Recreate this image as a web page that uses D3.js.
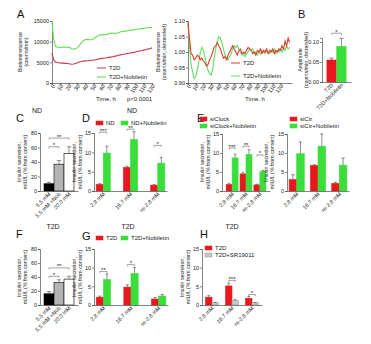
<!DOCTYPE html>
<html>
<head>
<meta charset="utf-8">
<script src="https://cdn.jsdelivr.net/npm/d3@7"></script>
<style>
  body { margin: 0; background: #fff; }
  svg { display: block; font-family: Arial, "Liberation Sans", sans-serif; }
  .axis path, .axis line { stroke: #333; stroke-width: 0.6; }
  .axis text { fill: #222; font-size: 5.5px; }
</style>
</head>
<body>
<svg id="fig" width="371" height="344"></svg>
<script>
// ---------- data ----------
// A, left: raw bioluminescence (counts/min)
var hoursRaw = [0,2,4,6,8,10,12,14,16,18,20,22,24,26,28,30,32,34,36,38,40,42,44,46,48,50,52,54,56,58,60,62,64,66,68,70,72,74,76,78,80,82,84,86,88,90,92,94,96,98,100,102,104,106,108,110,112,114,116,118,120];
var rawT2D = [7200,5600,5100,4950,4900,4850,4800,4800,4750,4700,4650,4600,4550,4600,4700,4850,5000,5150,5250,5300,5350,5400,5400,5450,5500,5550,5600,5700,5800,5900,5950,6000,6050,6100,6200,6250,6300,6400,6500,6600,6700,6800,6900,6950,7000,7100,7200,7250,7350,7400,7500,7600,7700,7800,7850,7950,8050,8150,8250,8350,8500];
var rawNob = [15000,10500,9000,8700,8600,8600,8650,8700,8650,8600,8700,8500,8300,8200,8250,8500,8900,9400,9900,10300,10500,10550,10500,10450,10500,10700,11000,11300,11500,11600,11700,11750,11700,11750,11900,12000,12100,12050,12000,12050,12200,12350,12450,12500,12550,12600,12700,12750,12800,12850,12950,13000,13050,13100,13150,13200,13300,13350,13450,13500,13450];

// A, right: detrended bioluminescence
var hoursDetr = [0,2,4,6,8,10,12,14,16,18,20,22,24,26,28,30,32,34,36,38,40,42,44,46,48,50,52,54,56,58,60,62,64,66,68,70,72,74,76,78,80,82,84,86,88,90,92,94,96,98,100,102,104,106,108,110,112,114,116,118,120,122,124,126,128,130,132];
var detrT2D = [1.095,1.04,0.995,0.99,0.975,0.98,0.99,0.985,0.975,0.98,0.97,0.965,0.955,0.96,0.975,0.985,1.00,1.015,1.02,1.03,1.02,1.01,0.995,0.98,0.985,0.975,0.99,1.00,1.01,1.02,1.01,1.00,0.99,1.005,1.01,0.995,1.00,0.995,1.005,1.015,1.01,1.005,0.995,1.00,0.99,1.005,1.00,1.01,0.995,1.005,1.00,1.01,0.995,1.005,1.00,1.01,0.995,1.005,1.00,1.01,1.005,1.02,1.01,1.035,1.02,1.045,1.03];
var detrNob = [1.09,1.02,0.96,0.935,0.915,0.92,0.94,0.97,1.00,1.015,1.005,0.985,0.96,0.94,0.93,0.925,0.945,0.98,1.01,1.035,1.05,1.045,1.03,1.01,0.99,0.98,0.975,0.985,0.995,1.01,1.02,1.015,1.02,1.01,1.00,0.99,0.995,0.985,0.995,1.00,1.01,1.005,1.01,0.995,1.00,0.99,1.00,0.995,1.005,1.00,0.995,1.005,1.00,0.995,1.005,1.00,1.01,0.995,1.005,1.00,1.01,1.0,1.015,1.005,1.02,1.01,1.015];

// B: amplitude
var ampLabels = ["T2D", "T2D+Nobiletin"];
var ampMean = [0.055, 0.089];
var ampErr = [0.005, 0.02];

// C / F: glucose conditions
var nobLabels = ["5.5 mM", "5.5 mM +Nob", "20.0 mM"];
var ndMean = [10, 37, 52];
var ndErr = [2, 5, 9];
var t2dMean = [16, 32, 37];
var t2dErr = [3, 4, 4];

// D / E / G / H: glucose steps
var glucLabels = ["2.8 mM", "16.7 mM", "re-2.8 mM"];
var dND = [1.7, 6.1, 1.5],        dNDErr = [0.2, 0.3, 0.2];
var dNob = [9.8, 13.3, 7.2],      dNobErr = [1.8, 2.0, 1.5];
var eClock = [1.7, 4.5, 1.6],     eClockErr = [0.3, 0.4, 0.2];
var eClockNob = [8.7, 9.6, 5.1],  eClockNobErr = [1.0, 1.3, 0.3];
var eCtr = [3.0, 6.7, 2.0],       eCtrErr = [1.3, 0.2, 0.3];
var eCtrNob = [9.8, 11.8, 6.8],   eCtrNobErr = [3.1, 3.2, 1.9];
var gT2D = [2.1, 4.8, 1.6],       gT2DErr = [0.3, 0.6, 0.4];
var gNob = [6.8, 8.4, 2.4],       gNobErr = [1.5, 1.6, 0.4];
var hT2D = [2.1, 5.1, 1.8],       hT2DErr = [0.4, 0.8, 0.5];
var hSR = [0.6, 1.2, 0.6],        hSRErr = [0.1, 0.3, 0.1];

// ---------- drawing ----------
var RED = "#e8191e", GREEN = "#3ade3a", GREY = "#c8c8c8";
var svg = d3.select("#fig");

function letter(t, x, y) {
  svg.append("text").attr("x", x).attr("y", y).attr("font-size", 11).attr("fill", "#111").text(t);
}
function label(t, x, y, size, anchor) {
  svg.append("text").attr("x", x).attr("y", y).attr("font-size", size || 6)
    .attr("text-anchor", anchor || "start").attr("fill", "#222").text(t);
}
function yTitle(x, yMid, lines) {
  lines.forEach(function(t, i) {
    svg.append("text")
      .attr("transform", "translate(" + (x + i * 5.5) + "," + yMid + ") rotate(-90)")
      .attr("text-anchor", "middle").attr("font-size", 5.3).attr("fill", "#222").text(t);
  });
}
function legendBox(x, y, fill, stroke, t) {
  svg.append("rect").attr("x", x).attr("y", y).attr("width", 7).attr("height", 4)
    .attr("fill", fill).attr("stroke", stroke || fill).attr("stroke-width", 0.5);
  label(t, x + 10, y + 4, 6);
}
function legendLine(x, y, color, t) {
  svg.append("line").attr("x1", x).attr("x2", x + 9).attr("y1", y).attr("y2", y)
    .attr("stroke", color).attr("stroke-width", 1);
  label(t, x + 12, y + 2, 6);
}
function rotateTicks(sel, angle) {
  sel.selectAll("text").attr("x", -1).attr("y", 2).attr("dy", "0.35em")
    .attr("transform", "rotate(" + angle + ")").style("text-anchor", "end");
}

// time-course panel
function tracePanel(p) {
  var x = d3.scaleLinear().domain(p.xdom).range([p.x0, p.x1]);
  var y = d3.scaleLinear().domain(p.ydom).range([p.yb, p.yt]);
  svg.append("g").attr("class", "axis").attr("transform", "translate(" + p.x0 + ",0)")
    .call(d3.axisLeft(y).tickValues(p.yticks).tickSize(2).tickPadding(1).tickFormat(p.fmt));
  svg.append("g").attr("class", "axis").attr("transform", "translate(0," + p.yb + ")")
    .call(d3.axisBottom(x).tickValues(p.xticks).tickSize(2).tickSizeOuter(0))
    .call(rotateTicks, -55);
  var line = d3.line().x(function(d) { return x(d[0]); }).y(function(d) { return y(d[1]); });
  p.series.forEach(function(s) {
    svg.append("path").datum(d3.zip(p.hours, s.values))
      .attr("fill", "none").attr("stroke", s.color).attr("stroke-width", 1.1).attr("d", line);
  });
}

// grouped bar panel with upward error bars and significance brackets
function barPanel(p) {
  var x = d3.scaleBand().domain(p.labels).range([p.x0, p.x1])
    .paddingInner(p.pi).paddingOuter(p.po);
  var inner = d3.scaleBand().domain(d3.range(p.series.length)).range([0, x.bandwidth()]);
  var y = d3.scaleLinear().domain([0, p.ymax]).range([p.yb, p.yt]);
  var bw = inner.bandwidth();

  svg.append("g").attr("class", "axis").attr("transform", "translate(" + p.x0 + ",0)")
    .call(d3.axisLeft(y).tickValues(p.ticks).tickSize(2).tickPadding(1)
      .tickFormat(p.fmt || d3.format("d")));

  p.series.forEach(function(s, si) {
    var fillOf = function(i) { return s.fills ? s.fills[i] : s.fill; };
    var g = svg.append("g");
    g.selectAll("rect").data(p.labels).join("rect")
      .attr("x", function(d) { return x(d) + inner(si); })
      .attr("width", bw)
      .attr("y", function(d, i) { return y(s.values[i]); })
      .attr("height", function(d, i) { return p.yb - y(s.values[i]); })
      .attr("fill", function(d, i) { return fillOf(i); })
      .attr("stroke", function(d, i) { return s.stroke || fillOf(i); })
      .attr("stroke-width", 0.6);
    // error bars
    g.selectAll("path").data(p.labels).join("path")
      .attr("fill", "none").attr("stroke", "#444").attr("stroke-width", 0.6)
      .attr("d", function(d, i) {
        var cx = x(d) + inner(si) + bw / 2, top = y(s.values[i] + s.errors[i]);
        return "M" + cx + "," + y(s.values[i]) + "V" + top +
          "M" + (cx - bw * 0.22) + "," + top + "H" + (cx + bw * 0.22);
      });
  });

  svg.append("g").attr("class", "axis").attr("transform", "translate(0," + p.yb + ")")
    .call(d3.axisBottom(x).tickSize(0).tickSizeOuter(0))
    .call(rotateTicks, -45);

  (p.sig || []).forEach(function(s) {
    var xa = x(p.labels[s.from[0]]) + inner(s.from[1]) + bw / 2;
    var xb = x(p.labels[s.to[0]]) + inner(s.to[1]) + bw / 2;
    var yy = y(s.at);
    svg.append("path").attr("fill", "none").attr("stroke", "#444").attr("stroke-width", 0.5)
      .attr("d", "M" + xa + "," + (yy + 1.5) + "V" + yy + "H" + xb + "V" + (yy + 1.5));
    label(s.text, (xa + xb) / 2, yy + 0.5, 6, "middle");
  });
}

var insulinTitle = ["Insulin secretion,", "mIU/L (% from content)"];

// ---- A ----
letter("A", 17, 18);
tracePanel({
  x0: 52, x1: 152, yt: 21, yb: 83, xdom: [0, 120], ydom: [0, 15000],
  xticks: [0,10,20,30,40,50,60,70,80,90,100,110,120], yticks: [0, 5000, 10000, 15000],
  fmt: d3.format("d"), hours: hoursRaw,
  series: [{ values: rawNob, color: "#66dd55" }, { values: rawT2D, color: "#cc3344" }]
});
yTitle(22, 52, ["Bioluminescence", "(counts/min)"]);
legendLine(97, 68, "#cc3344", "T2D");
legendLine(97, 77, "#66dd55", "T2D+Nobiletin");
label("Time, h", 106, 101, 6, "middle");
label("p<0.0001", 127, 101, 6);

tracePanel({
  x0: 188, x1: 292, yt: 21, yb: 83, xdom: [0, 135], ydom: [0.9, 1.1],
  xticks: [0,10,20,30,40,50,60,70,80,90,100,110,120], yticks: [0.9, 0.95, 1.0, 1.05, 1.1],
  fmt: d3.format(".2f"), hours: hoursDetr,
  series: [{ values: detrNob, color: "#5ee05e" }, { values: detrT2D, color: "#e03c28" }]
});
yTitle(160, 52, ["Bioluminescence", "(counts/min, detrended)"]);
legendLine(231, 63, "#e03c28", "T2D");
legendLine(231, 76, "#5ee05e", "T2D+Nobiletin");
label("Time, h", 255, 101, 6, "middle");

// ---- B ----
letter("B", 298, 18);
barPanel({
  labels: ampLabels, x0: 322, x1: 351, pi: 0.05, po: 0.5, yt: 38, yb: 82,
  ymax: 0.11, ticks: [0, 0.05, 0.1], fmt: d3.format(".2f"),
  series: [{ values: ampMean, errors: ampErr, fills: [RED, GREEN] }],
  sig: [{ from: [0, 0], to: [1, 0], at: 0.122, text: "*" }]
});
yTitle(302, 60, ["Amplitude", "(counts/min, detrended)"]);

// ---- C ----
letter("C", 16, 122);
label("ND", 37, 113, 7, "middle");
barPanel({
  labels: nobLabels, x0: 40, x1: 78, pi: 0, po: 0.4, yt: 133, yb: 191,
  ymax: 80, ticks: [0, 20, 40, 60, 80],
  series: [{ values: ndMean, errors: ndErr, fills: ["#000", "#b4b4b4", "#fff"], stroke: "#000" }],
  sig: [{ from: [0, 0], to: [1, 0], at: 61, text: "*" },
        { from: [0, 0], to: [2, 0], at: 73, text: "**" }]
});
yTitle(21, 162, insulinTitle);

// ---- D ----
letter("D", 82, 122);
label("ND", 132, 113, 7, "middle");
legendBox(96, 121, RED, null, "ND");
legendBox(121, 121, GREEN, null, "ND+Nobiletin");
barPanel({
  labels: glucLabels, x0: 94, x1: 167, pi: 0.48, po: 0.08, yt: 133, yb: 191,
  ymax: 15, ticks: [0, 5, 10, 15],
  series: [{ values: dND, errors: dNDErr, fill: RED },
           { values: dNob, errors: dNobErr, fill: GREEN }],
  sig: [{ from: [0, 0], to: [0, 1], at: 15.2, text: "***" },
        { from: [1, 0], to: [1, 1], at: 16.0, text: "**" },
        { from: [2, 0], to: [2, 1], at: 11.8, text: "*" }]
});
yTitle(76, 162, insulinTitle);

// ---- E ----
letter("E", 197, 122);
legendBox(200, 117, RED, null, "siClock");
legendBox(200, 124, GREEN, null, "siClock+Nobiletin");
barPanel({
  labels: glucLabels, x0: 222, x1: 270, pi: 0.14, po: 0.3, yt: 134, yb: 191,
  ymax: 15, ticks: [0, 5, 10, 15],
  series: [{ values: eClock, errors: eClockErr, fill: RED },
           { values: eClockNob, errors: eClockNobErr, fill: GREEN }],
  sig: [{ from: [0, 0], to: [0, 1], at: 11.3, text: "***" },
        { from: [1, 0], to: [1, 1], at: 11.8, text: "**" },
        { from: [2, 0], to: [2, 1], at: 9.5, text: "*" }]
});
yTitle(204, 162, insulinTitle);

legendBox(290, 117, RED, null, "siCtr");
legendBox(290, 124, GREEN, null, "siCtr+Nobiletin");
barPanel({
  labels: glucLabels, x0: 287, x1: 349, pi: 0.29, po: 0.1, yt: 134, yb: 191,
  ymax: 15, ticks: [0, 5, 10, 15],
  series: [{ values: eCtr, errors: eCtrErr, fill: RED },
           { values: eCtrNob, errors: eCtrNobErr, fill: GREEN }]
});
yTitle(268, 162, insulinTitle);

// ---- F ----
letter("F", 16, 238);
label("T2D", 53, 229, 7, "middle");
barPanel({
  labels: nobLabels, x0: 40, x1: 78, pi: 0, po: 0.4, yt: 249, yb: 305,
  ymax: 80, ticks: [0, 20, 40, 60, 80],
  series: [{ values: t2dMean, errors: t2dErr, fills: ["#000", "#b4b4b4", "#fff"], stroke: "#000" }],
  sig: [{ from: [0, 0], to: [1, 0], at: 41, text: "*" },
        { from: [0, 0], to: [2, 0], at: 53, text: "**" }]
});
yTitle(21, 277, insulinTitle);

// ---- G ----
letter("G", 82, 240);
label("T2D", 128, 229, 7, "middle");
legendBox(96, 236, RED, null, "T2D");
legendBox(121, 236, GREEN, null, "T2D+Nobiletin");
barPanel({
  labels: glucLabels, x0: 94, x1: 168, pi: 0.48, po: 0.08, yt: 249, yb: 305,
  ymax: 15, ticks: [0, 5, 10, 15],
  series: [{ values: gT2D, errors: gT2DErr, fill: RED },
           { values: gNob, errors: gNobErr, fill: GREEN }],
  sig: [{ from: [0, 0], to: [0, 1], at: 9.0, text: "**" },
        { from: [1, 0], to: [1, 1], at: 10.8, text: "*" }]
});
yTitle(76, 277, insulinTitle);

// ---- H ----
letter("H", 200, 238);
label("T2D", 232, 229, 7, "middle");
legendBox(205, 246, RED, null, "T2D");
legendBox(205, 253, GREY, "#999", "T2D+SR19011");
barPanel({
  labels: glucLabels, x0: 202, x1: 262, pi: 0.35, po: 0.175, yt: 249, yb: 305,
  ymax: 15, ticks: [0, 5, 10, 15],
  series: [{ values: hT2D, errors: hT2DErr, fill: RED },
           { values: hSR, errors: hSRErr, fill: GREY, stroke: "#999" }],
  sig: [{ from: [1, 0], to: [1, 1], at: 6.6, text: "***" },
        { from: [2, 0], to: [2, 1], at: 2.8, text: "*" }]
});
yTitle(184, 277, insulinTitle);
</script>
</body>
</html>
